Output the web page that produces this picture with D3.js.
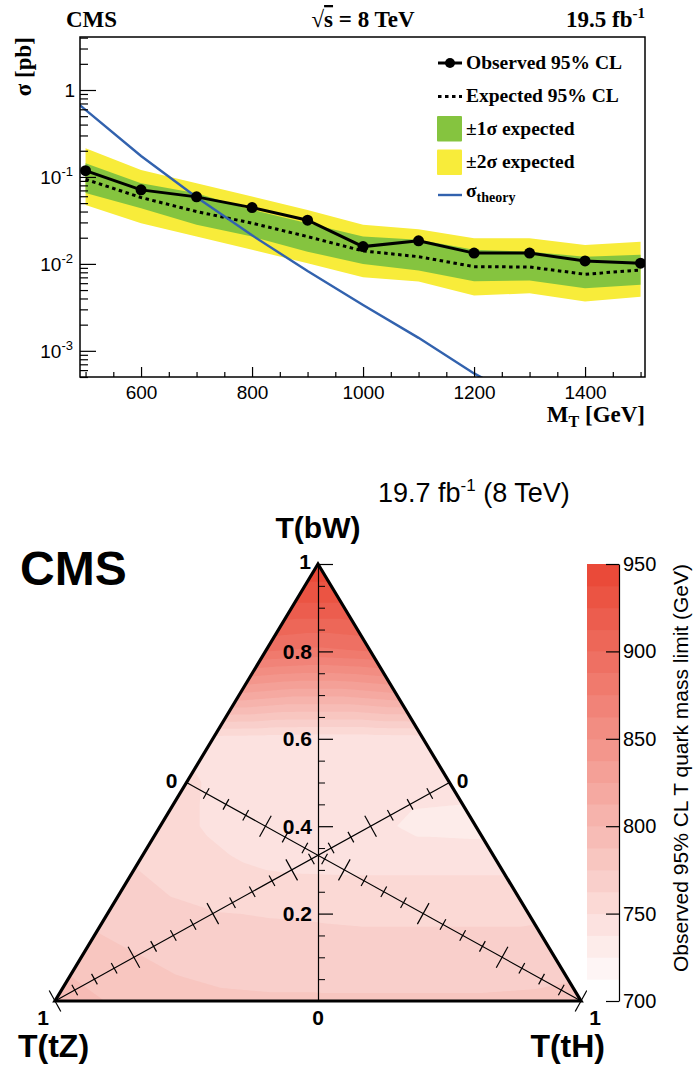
<!DOCTYPE html>
<html><head><meta charset="utf-8">
<script src="https://cdn.jsdelivr.net/npm/d3@7"></script>
<style>body{margin:0;background:#fff}svg{display:block}</style>
</head><body>
<svg id="c" width="695" height="1065"></svg>
<script>
// ---------------- DATA (top panel) ----------------
const masses     = [500, 600, 700, 800, 900, 1000, 1100, 1200, 1300, 1400, 1500];
const observed   = [0.118, 0.071, 0.059, 0.0444, 0.0318, 0.0158, 0.0184, 0.0133, 0.0133, 0.0108, 0.0102];
const expected   = [0.094, 0.058, 0.040, 0.0294, 0.0206, 0.0141, 0.0121, 0.0093, 0.0092, 0.0076, 0.0085];
const band1Up    = [0.1437, 0.0847, 0.065, 0.0418, 0.0294, 0.0206, 0.0189, 0.0145, 0.0138, 0.0121, 0.0127];
const band1Down  = [0.0655, 0.0437, 0.0281, 0.0206, 0.0138, 0.0100, 0.0084, 0.0063, 0.00643, 0.00526, 0.00574];
const band2Up    = [0.214, 0.1204, 0.0847, 0.0594, 0.0418, 0.0281, 0.0251, 0.0197, 0.0197, 0.0165, 0.018];
const band2Down  = [0.0476, 0.0294, 0.0206, 0.0145, 0.0102, 0.0070, 0.00626, 0.00432, 0.0046, 0.00369, 0.0042];
const theoryMass = [400, 500, 600, 700, 800, 900, 1000, 1100, 1200, 1300];
const theoryXsec = [2.0, 0.590, 0.174, 0.0585, 0.0213, 0.00827, 0.00336, 0.00141, 0.00055, 0.00025];
const xTicks     = [600, 800, 1000, 1200, 1400];
const yTickExp   = [0, -1, -2, -3];
const legendLabels = ["Observed 95% CL", "Expected 95% CL", "\u00b11\u03c3 expected", "\u00b12\u03c3 expected", "\u03c3"];

// ---------------- DATA (bottom panel) ----------------
// observed T mass limit (GeV); row i is B(bW)=i/10, entries run over B(tH)=0,0.1,... up to 1-B(bW)
const limitRows = [
  [795, 787, 781, 778, 777, 777, 777, 777, 777, 778, 781],
  [782, 776, 771, 768, 767, 766, 766, 766, 766, 767],
  [770, 766, 763, 762, 761.5, 761, 761, 761, 761],
  [763, 757, 751, 749, 748.5, 748.5, 748.5, 748.5],
  [756, 748, 745, 744, 741, 734, 733],
  [752, 745, 744, 744, 743, 742],
  [745, 744, 743, 743, 744],
  [822, 815, 815, 822],
  [888, 884, 888],
  [922, 922],
  [948]
];
const cbTicks   = [700, 750, 800, 850, 900, 950];
const ternTicks = [0.2, 0.4, 0.6, 0.8];

// ---------------- SETUP ----------------
const svg = d3.select("#c");
const serif = "'Liberation Serif','Times New Roman',serif";
const sans  = "'Liberation Sans',Arial,Helvetica,sans-serif";

// ================= TOP PANEL =================
const X0 = 80, X1 = 645, Y0 = 37, Y1 = 377;
const x = d3.scaleLinear().domain([490, 1508]).range([X0, X1]);
const y = d3.scaleLog().domain([5e-4, 4.07]).range([Y1, Y0]);

svg.append("clipPath").attr("id", "pc").append("rect")
  .attr("x", X0).attr("y", Y0).attr("width", X1 - X0).attr("height", Y1 - Y0);
const plot = svg.append("g").attr("clip-path", "url(#pc)");

const rows = masses.map((m, i) => ({m, obs: observed[i], exp: expected[i],
  u1: band1Up[i], d1: band1Down[i], u2: band2Up[i], d2: band2Down[i]}));

plot.append("path").datum(rows).attr("fill", "#f8ec3a")
  .attr("d", d3.area().x(d => x(d.m)).y0(d => y(d.d2)).y1(d => y(d.u2)));
plot.append("path").datum(rows).attr("fill", "#85c43f")
  .attr("d", d3.area().x(d => x(d.m)).y0(d => y(d.d1)).y1(d => y(d.u1)));
plot.append("path").datum(rows).attr("fill", "none").attr("stroke", "#000")
  .attr("stroke-width", 3).attr("stroke-dasharray", "3.5,3.5")
  .attr("d", d3.line().x(d => x(d.m)).y(d => y(d.exp)));
const th = theoryMass.map((m, i) => ({m, v: theoryXsec[i]}));
plot.append("path").datum(th).attr("fill", "none").attr("stroke", "#3262ae")
  .attr("stroke-width", 2.4).attr("d", d3.line().x(d => x(d.m)).y(d => y(d.v)));
plot.append("path").datum(rows).attr("fill", "none").attr("stroke", "#000")
  .attr("stroke-width", 3).attr("d", d3.line().x(d => x(d.m)).y(d => y(d.obs)));
plot.selectAll("circle.o").data(rows).join("circle").attr("class", "o")
  .attr("cx", d => x(d.m)).attr("cy", d => y(d.obs)).attr("r", 5.5).attr("fill", "#000");

// axes ticks
const xMinor = d3.range(500, 1501, 50).filter(v => v % 200 !== 0);
svg.append("g").attr("transform", `translate(0,${Y1})`)
  .call(d3.axisBottom(x).tickValues(xMinor).tickSize(-5).tickFormat(""))
  .call(g => g.select(".domain").remove());
const gx = svg.append("g").attr("transform", `translate(0,${Y1})`)
  .call(d3.axisBottom(x).tickValues(xTicks).tickSize(-10).tickPadding(8.5).tickFormat(d3.format("d")))
  .call(g => g.select(".domain").remove());
gx.selectAll("text").attr("font-family", sans).attr("font-size", 19).attr("fill", "#000");

const yMajor = yTickExp.map(e => Math.pow(10, e));
const yMinor = [];
[-4, -3, -2, -1, 0].forEach(e => { for (let k = 2; k <= 9; k++) { const v = k * Math.pow(10, e); if (v >= 5e-4 && v <= 4.07) yMinor.push(v); } });
svg.append("g").attr("transform", `translate(${X0},0)`)
  .call(d3.axisLeft(y).tickValues(yMinor).tickSize(-8).tickFormat(""))
  .call(g => g.select(".domain").remove());
svg.append("g").attr("transform", `translate(${X0},0)`)
  .call(d3.axisLeft(y).tickValues(yMajor).tickSize(-16).tickFormat(""))
  .call(g => g.select(".domain").remove());
svg.selectAll(".tick line").attr("stroke", "#000").attr("stroke-width", 1.2);

yTickExp.forEach(e => {
  const t = svg.append("text").attr("font-family", sans).attr("font-size", 19)
    .attr("text-anchor", "end").attr("x", e === 0 ? 75 : 73).attr("y", y(Math.pow(10, e)) + 7);
  if (e === 0) t.text("1");
  else { t.append("tspan").text("10"); t.append("tspan").attr("font-size", 13).attr("dy", -8).text(String(e)); }
});

// frame
svg.append("rect").attr("x", X0).attr("y", Y0).attr("width", X1 - X0).attr("height", Y1 - Y0)
  .attr("fill", "none").attr("stroke", "#000").attr("stroke-width", 1.5);

// axis titles
const xt = svg.append("text").attr("font-family", serif).attr("font-weight", "bold").attr("font-size", 23)
  .attr("text-anchor", "end").attr("x", X1).attr("y", 422);
xt.append("tspan").text("M");
xt.append("tspan").attr("font-size", 16).attr("dy", 5).text("T");
xt.append("tspan").attr("dy", -5).text(" [GeV]");
svg.append("text").attr("font-family", serif).attr("font-weight", "bold").attr("font-size", 23)
  .attr("text-anchor", "end").attr("transform", "translate(31,37) rotate(-90)").text("\u03c3 [pb]");

// header
svg.append("text").attr("font-family", serif).attr("font-weight", "bold").attr("font-size", 23)
  .attr("x", 66).attr("y", 27).text("CMS");
const hs = svg.append("text").attr("font-family", serif).attr("font-weight", "bold").attr("font-size", 23)
  .attr("x", 363).attr("y", 27).attr("text-anchor", "middle");
hs.append("tspan").text("\u221a");
hs.append("tspan").attr("text-decoration", "overline").text("s");
hs.append("tspan").text(" = 8 TeV");
const hl = svg.append("text").attr("font-family", serif).attr("font-weight", "bold").attr("font-size", 23)
  .attr("x", X1).attr("y", 27).attr("text-anchor", "end");
hl.append("tspan").text("19.5 fb");
hl.append("tspan").attr("font-size", 15).attr("dy", -9).text("-1");

// legend
const lg = svg.append("g");
const lx0 = 438, lx1 = 462, ltx = 466;
lg.append("line").attr("x1", lx0).attr("x2", lx1).attr("y1", 63).attr("y2", 63).attr("stroke", "#000").attr("stroke-width", 3);
lg.append("circle").attr("cx", 450).attr("cy", 63).attr("r", 5).attr("fill", "#000");
lg.append("line").attr("x1", lx0).attr("x2", lx1).attr("y1", 96.5).attr("y2", 96.5).attr("stroke", "#000")
  .attr("stroke-width", 3).attr("stroke-dasharray", "3.5,3.5");
lg.append("rect").attr("x", 437).attr("y", 116).attr("width", 25).attr("height", 25.5).attr("fill", "#85c43f").attr("rx", 1);
lg.append("rect").attr("x", 437).attr("y", 149.5).attr("width", 25).attr("height", 25.5).attr("fill", "#f8ec3a").attr("rx", 1);
lg.append("line").attr("x1", lx0).attr("x2", lx1).attr("y1", 195).attr("y2", 195).attr("stroke", "#3262ae").attr("stroke-width", 2.4);
const lys = [68.5, 102, 135, 168, 197];
legendLabels.forEach((s, i) => {
  const t = lg.append("text").attr("font-family", serif).attr("font-weight", "bold").attr("font-size", 19.5)
    .attr("x", ltx).attr("y", lys[i]).text(s);
  if (i === 4) t.append("tspan").attr("font-size", 14).attr("dy", 5).text("theory");
});

// ================= BOTTOM PANEL =================
const apexY = 564, baseY = 1001, leftX = 55, rightX = 581;
const bY = d3.scaleLinear().domain([0, 1]).range([baseY, apexY]);      // B(bW) -> y
const dX = d3.scaleLinear().domain([-1, 1]).range([leftX, rightX]);    // B(tH)-B(tZ) -> x
const tern = (b, h) => [dX(h - (1 - b - h)), bY(b)];

function field(b, h) {
  b = Math.max(0, Math.min(1, b));
  h = Math.max(0, Math.min(1 - b, h));
  const B = b * 10, H = h * 10;
  const i = Math.floor(B + 1e-9), j = Math.floor(H + 1e-9);
  if (i >= 10) return limitRows[10][0];
  const fb = B - i, fh = H - j;
  const g = (a, c) => (limitRows[a] && limitRows[a][c] !== undefined) ? limitRows[a][c] : limitRows[i][Math.min(j, limitRows[i].length - 1)];
  const v00 = g(i, j);
  if (fb + fh <= 1) return v00 + fb * (g(i + 1, j) - v00) + fh * (g(i, j + 1) - v00);
  const v11 = g(i + 1, j + 1);
  return v11 + (1 - fb) * (g(i, j + 1) - v11) + (1 - fh) * (g(i + 1, j) - v11);
}

const gs = 2, gx0 = 48, gy0 = 556;
const nx = Math.ceil((592 - gx0) / gs) + 1, ny = Math.ceil((1010 - gy0) / gs) + 1;
const vals = new Float64Array(nx * ny);
for (let jy = 0; jy < ny; jy++) for (let ix = 0; ix < nx; ix++) {
  const px = gx0 + ix * gs, py = gy0 + jy * gs;
  const b = bY.invert(py);
  const h = (dX.invert(px) + 1 - b) / 2;
  vals[jy * nx + ix] = field(b, h);
}
const levels = d3.range(20).map(i => 700 + 12.5 * i);
const pal = d3.interpolateRgb("#ffffff", "#ea4a39");
const levColor = i => pal(i / 19);
const conts = d3.contours().size([nx, ny]).thresholds(levels.slice(1))(Array.from(vals));
const proj = d3.geoPath(d3.geoIdentity().scale(gs).translate([gx0 - gs / 2, gy0 - gs / 2]));

const triPts = [tern(1, 0), tern(0, 0), tern(0, 1)];
svg.append("clipPath").attr("id", "tc").append("polygon").attr("points", triPts.map(p => p.join(",")).join(" "));
const cg = svg.append("g").attr("clip-path", "url(#tc)");
cg.append("polygon").attr("points", triPts.map(p => p.join(",")).join(" ")).attr("fill", levColor(0));
cg.selectAll("path").data(conts).join("path")
  .attr("d", proj).attr("fill", d => levColor(Math.round((d.value - 700) / 12.5)));

// vertical B(bW) axis
const vMinor = d3.range(1, 20).map(k => k * 0.05).filter((v, k) => (k + 1) % 4 !== 0);
svg.append("g").attr("transform", "translate(318,0)")
  .call(d3.axisRight(bY).tickValues(vMinor).tickSize(7).tickSizeOuter(0).tickFormat(""))
  .call(g => g.selectAll("line").attr("stroke", "#000"))
  .call(g => g.select(".domain").attr("stroke", "#000").attr("stroke-width", 1.2));
svg.append("g").attr("transform", "translate(318,0)")
  .call(d3.axisRight(bY).tickValues(ternTicks.concat([1])).tickSize(15).tickFormat(""))
  .call(g => g.select(".domain").remove())
  .call(g => g.selectAll("line").attr("stroke", "#000").attr("stroke-width", 1.2));
ternTicks.forEach(v => svg.append("text").attr("font-family", sans).attr("font-weight", "bold").attr("font-size", 21)
  .attr("text-anchor", "end").attr("x", 312).attr("y", bY(v) + 7.5).text(v.toFixed(1)));

// diagonal axes
function diagAxis(p0, p1) {
  const sc = d3.scaleLinear().domain([0, 1]).range([p0, p1]);
  const dx = p1[0] - p0[0], dy = p1[1] - p0[1], L = Math.hypot(dx, dy);
  const nxv = -dy / L, nyv = dx / L;
  svg.append("line").attr("x1", p0[0]).attr("y1", p0[1]).attr("x2", p1[0]).attr("y2", p1[1])
    .attr("stroke", "#000").attr("stroke-width", 1.2);
  const tv = d3.range(1, 21).map(k => ({v: k * 0.05, major: k % 4 === 0}));
  svg.append("g").selectAll("line").data(tv).join("line")
    .attr("x1", d => sc(d.v)[0] - nxv * (d.major ? 12 : 6)).attr("y1", d => sc(d.v)[1] - nyv * (d.major ? 12 : 6))
    .attr("x2", d => sc(d.v)[0] + nxv * (d.major ? 12 : 6)).attr("y2", d => sc(d.v)[1] + nyv * (d.major ? 12 : 6))
    .attr("stroke", "#000").attr("stroke-width", 1.2);
}
diagAxis(tern(0.5, 0), tern(0, 1));     // B(tH): 0 at left-edge midpoint, 1 at tH vertex
diagAxis(tern(0.5, 0.5), tern(0, 0));   // B(tZ): 0 at right-edge midpoint, 1 at tZ vertex

// triangle outline
svg.append("polygon").attr("points", triPts.map(p => p.join(",")).join(" "))
  .attr("fill", "none").attr("stroke", "#000").attr("stroke-width", 3.2).attr("stroke-linejoin", "miter");

// end labels
const lab = (t, xx, yy, anchor) => svg.append("text").attr("font-family", sans).attr("font-weight", "bold")
  .attr("font-size", 21).attr("text-anchor", anchor || "middle").attr("x", xx).attr("y", yy).text(t);
lab("1", 311, 569, "end");
lab("0", tern(0, 0.5)[0], 1025);
lab("1", tern(0, 0)[0] - 12, 1025);
lab("1", tern(0, 1)[0] + 14, 1025);
lab("0", tern(0.5, 0)[0] - 15, 788);
lab("0", tern(0.5, 0.5)[0] + 13, 788);

const big = (t, xx, yy, anchor, fs) => svg.append("text").attr("font-family", sans).attr("font-weight", "bold")
  .attr("font-size", fs).attr("text-anchor", anchor).attr("x", xx).attr("y", yy).text(t);
big("T(bW)", 318, 538, "middle", 30);
big("T(tZ)", 18, 1057, "start", 32);
big("T(tH)", 605, 1057, "end", 32);
big("CMS", 20, 585, "start", 48);

const tt = svg.append("text").attr("font-family", sans).attr("font-size", 27).attr("x", 378).attr("y", 502);
tt.append("tspan").text("19.7 fb");
tt.append("tspan").attr("font-size", 17).attr("dy", -11).text("-1");
tt.append("tspan").attr("dy", 11).text(" (8 TeV)");

// colour bar
const cScale = d3.scaleLinear().domain([700, 950]).range([baseY, apexY]);
const cbX0 = 587, cbX1 = 619;
svg.append("g").selectAll("rect").data(levels).join("rect")
  .attr("x", cbX0).attr("width", cbX1 - cbX0)
  .attr("y", d => cScale(d + 12.5)).attr("height", d => cScale(d) - cScale(d + 12.5) + 0.5)
  .attr("fill", (d, i) => levColor(i));
const gc = svg.append("g").attr("transform", `translate(${cbX1},0)`)
  .call(d3.axisRight(cScale).tickValues(cbTicks).tickSize(-13).tickSizeOuter(0).tickPadding(4));
gc.select(".domain").attr("stroke", "#000").attr("stroke-width", 1.2);
gc.selectAll("line").attr("stroke", "#000").attr("stroke-width", 1.2);
gc.selectAll("text").attr("font-family", sans).attr("font-size", 20).attr("fill", "#000");
svg.append("text").attr("font-family", sans).attr("font-size", 21).attr("text-anchor", "end")
  .attr("transform", "translate(688,564) rotate(-90)").text("Observed 95% CL T quark mass limit (GeV)");
</script>
</body></html>
